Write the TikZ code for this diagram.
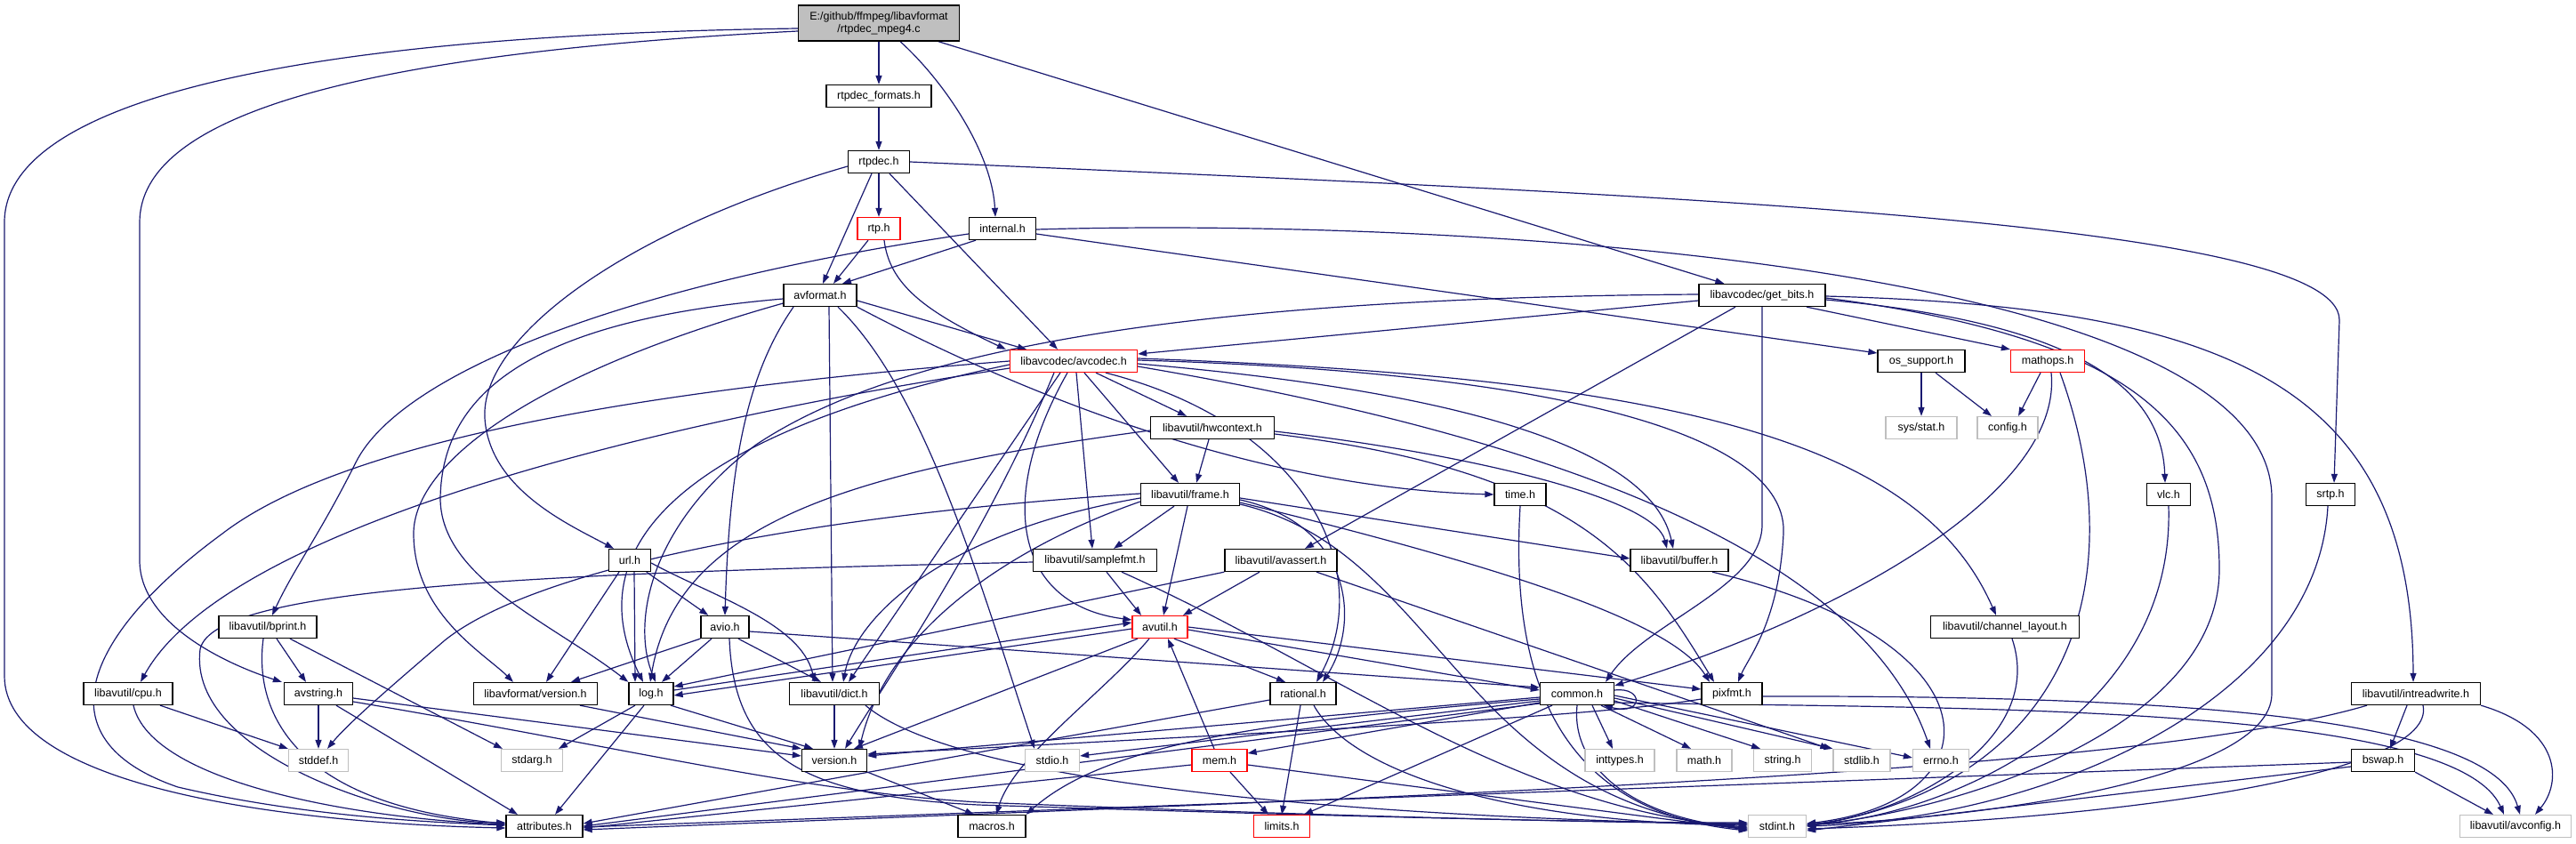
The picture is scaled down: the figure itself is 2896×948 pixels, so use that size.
\documentclass[tikz,border=0pt]{standalone}
\usepackage{fontspec}
\newfontfamily\nf{Liberation Sans}
\usetikzlibrary{arrows.meta}
\pgfdeclarelayer{bg}
\pgfsetlayers{bg,main}
\definecolor{navy}{RGB}{25,25,112}
\definecolor{lg}{RGB}{191,191,191}
\definecolor{mg}{RGB}{191,191,191}
\tikzset{
 nb/.style={draw=black, fill=white, line width=1.3pt, minimum height=25pt, inner sep=0pt, font=\nf\fontsize{12.5}{14}\selectfont, text=black},
 nr/.style={nb, draw=red},
 ng/.style={nb, draw=lg},
 edg/.style={draw=navy, line width=1.2pt, -{Triangle[length=10pt,width=7pt]}},
}
\newcommand\mkn[6]{\node[#1, minimum width=#5pt] (#2) at (#3,#4) {#6};}
\begin{document}
\begin{tikzpicture}[x=1pt,y=-1pt]
\useasboundingbox (0,0) rectangle (2896,948);
\node[nb, fill=mg, minimum width=181pt, minimum height=40pt, align=center] (main) at (988,26) {E:/github/ffmpeg/libavformat\\/rtpdec\_mpeg4.c};
\mkn{nb}{fmt}{988}{108}{118}{rtpdec\_formats.h}
\mkn{nb}{rtpdec}{988}{182}{69}{rtpdec.h}
\mkn{nr}{rtp}{988}{257}{48}{rtp.h}
\mkn{nb}{internal}{1127}{257}{75}{internal.h}
\mkn{nb}{avformat}{922}{332}{82}{avformat.h}
\mkn{nr}{avcodec}{1207}{406}{143}{libavcodec/avcodec.h}
\mkn{nb}{getbits}{1981}{332}{142}{libavcodec/get\_bits.h}
\mkn{nb}{ossupport}{2160}{406}{98}{os\_support.h}
\mkn{nr}{mathops}{2302}{406}{83}{mathops.h}
\mkn{ng}{sysstat}{2160}{481}{80}{sys/stat.h}
\mkn{ng}{config}{2257}{481}{68}{config.h}
\mkn{nb}{vlc}{2438}{556}{49}{vlc.h}
\mkn{nb}{srtp}{2620}{556}{55}{srtp.h}
\mkn{nb}{hwcontext}{1363}{481}{139}{libavutil/hwcontext.h}
\mkn{nb}{frame}{1338}{556}{111}{libavutil/frame.h}
\mkn{nb}{time}{1709}{556}{58}{time.h}
\mkn{nb}{samplefmt}{1231}{630}{139}{libavutil/samplefmt.h}
\mkn{nb}{avassert}{1440}{630}{126}{libavutil/avassert.h}
\mkn{nb}{buffer}{1888}{630}{110}{libavutil/buffer.h}
\mkn{nb}{chlayout}{2254}{705}{167}{libavutil/channel\_layout.h}
\mkn{nb}{url}{708}{630}{47}{url.h}
\mkn{nb}{bprint}{301}{705}{110}{libavutil/bprint.h}
\mkn{nb}{avio}{815}{705}{54}{avio.h}
\mkn{nb}{cpu}{144}{780}{100}{libavutil/cpu.h}
\mkn{nb}{avstring}{358}{780}{77}{avstring.h}
\mkn{nb}{lavfversion}{602}{780}{139}{libavformat/version.h}
\mkn{nb}{log}{732}{780}{50}{log.h}
\mkn{nb}{dict}{938}{780}{101}{libavutil/dict.h}
\mkn{ng}{stddef}{358}{855}{67}{stddef.h}
\mkn{ng}{stdarg}{598}{855}{69}{stdarg.h}
\mkn{nb}{version}{938}{855}{73}{version.h}
\mkn{nb}{attributes}{612}{929}{86}{attributes.h}
\mkn{nr}{avutil}{1304}{705}{62}{avutil.h}
\mkn{nb}{rational}{1465}{780}{74}{rational.h}
\mkn{nb}{common}{1773}{780}{83}{common.h}
\mkn{nb}{pixfmt}{1947}{780}{68}{pixfmt.h}
\mkn{nb}{intreadwrite}{2716}{780}{145}{libavutil/intreadwrite.h}
\mkn{ng}{stdio}{1183}{855}{61}{stdio.h}
\mkn{nr}{mem}{1371}{855}{62}{mem.h}
\mkn{ng}{inttypes}{1821}{855}{78}{inttypes.h}
\mkn{ng}{math}{1916}{855}{62}{math.h}
\mkn{ng}{string}{2004}{855}{65}{string.h}
\mkn{ng}{stdlib}{2093}{855}{64}{stdlib.h}
\mkn{ng}{errno}{2182}{855}{63}{errno.h}
\mkn{nb}{bswap}{2679}{855}{71}{bswap.h}
\mkn{nb}{macros}{1115}{929}{76}{macros.h}
\mkn{nr}{limits}{1441}{929}{63}{limits.h}
\mkn{ng}{stdint}{1998}{929}{65}{stdint.h}
\mkn{ng}{avconfig}{2828}{929}{125}{libavutil/avconfig.h}
\begin{pgfonlayer}{bg}
\fill[white] (0,0) rectangle (2896,948);
% main
\draw[edg] (main) -- (fmt);
\draw[edg] ([xshift=24pt]main.south) .. controls (1060,90) and (1115,170) .. ([xshift=-8pt]internal.north);
\draw[edg] (main) -- (getbits);
\draw[edg] ([yshift=-6pt]main.west) .. controls (300,40) and (5,120) .. (5,250) -- (5,760) .. controls (5,880) and (300,925) .. ([yshift=-2pt]attributes.west);
\draw[edg] ([yshift=-9pt]main.west) .. controls (400,60) and (157,130) .. (157,250) -- (157,630) .. controls (157,700) and (250,745) .. ([xshift=-2pt]avstring.north west);
% fmt, rtpdec, rtp
\draw[edg] (fmt) -- (rtpdec);
\draw[edg] (rtpdec) -- (rtp);
\draw[edg] ([xshift=-8pt]rtpdec.south) -- ([xshift=3pt]avformat.north);
\draw[edg] ([xshift=12pt]rtpdec.south) -- ([xshift=-18pt]avcodec.north);
\draw[edg] ([yshift=-5pt]rtpdec.west) .. controls (700,260) and (540,380) .. (545,470) .. controls (550,550) and (640,590) .. ([xshift=-18pt]url.north);
\draw[edg] (rtpdec.east) .. controls (1900,220) and (2630,250) .. (2630,360) -- ([xshift=4pt]srtp.north);
\draw[edg] ([xshift=-12pt]rtp.south) -- ([xshift=15pt]avformat.north);
\draw[edg] ([xshift=6pt]rtp.south) .. controls (1000,320) and (1040,350) .. ([xshift=-4pt]avcodec.north west);
% internal
\draw[edg] ([xshift=-30pt]internal.south) -- ([xshift=25pt]avformat.north);
\draw[edg] ([yshift=-6pt]internal.east) -- ([yshift=9pt]ossupport.west);
\draw[edg] ([yshift=-6pt]internal.west) .. controls (700,320) and (450,420) .. (400,520) .. controls (360,600) and (330,640) .. ([xshift=5pt]bprint.north);
\draw[edg] ([yshift=-1pt]internal.east) .. controls (1600,245) and (2554,290) .. (2554,560) -- (2554,780) .. controls (2554,880) and (2200,922) .. ([yshift=2pt]stdint.east);
% avformat
\draw[edg] ([yshift=-6pt]avformat.east) -- ([xshift=-53pt]avcodec.north);
\draw[edg] (avformat.south east) .. controls (1200,470) and (1450,550) .. (time.west);
\draw[edg] ([xshift=20pt]avformat.south) .. controls (1040,440) and (1100,650) .. ([xshift=-20pt]stdio.north);
\draw[edg] ([xshift=10pt]avformat.south) -- ([xshift=-2pt]dict.north);
\draw[edg] ([xshift=-30pt]avformat.south) .. controls (840,420) and (820,520) .. (avio.north);
\draw[edg] ([yshift=-4pt]avformat.west) .. controls (600,360) and (497,440) .. (495,560) .. controls (495,650) and (620,700) .. (log.north west);
\draw[edg] ([yshift=-9pt]avformat.west) .. controls (600,420) and (465,520) .. (465,600) .. controls (465,690) and (545,735) .. ([xshift=-25pt]lavfversion.north);
% url
\draw[edg] (url) -- (avio);
\draw[edg] ([xshift=5pt]url.south) -- ([xshift=-18pt]log.north);
\draw[edg] ([yshift=-3pt]url.east) .. controls (800,670) and (900,700) .. ([xshift=-22pt]dict.north);
\draw[edg] ([xshift=-12pt]url.south) -- ([xshift=12pt]lavfversion.north);
% avio
\draw[edg] ([xshift=-15pt]avio.south) -- ([xshift=12pt]log.north);
\draw[edg] ([xshift=15pt]avio.south) -- ([xshift=-15pt]dict.north);
\draw[edg] (avio.south west) -- ([xshift=40pt]lavfversion.north);
\draw[edg] ([yshift=-5pt]avio.east) -- ([yshift=7pt]common.west);
\draw[edg] ([xshift=5pt]avio.south) .. controls (825,850) and (900,895) .. (1100,905) .. controls (1500,918) and (1800,925) .. ([yshift=4pt]stdint.west);
% bprint
\draw[edg] ([xshift=10pt]bprint.south) -- ([xshift=-14pt]avstring.north);
\draw[edg] ([xshift=25pt]bprint.south) -- ([xshift=-33pt]stdarg.north);
\draw[edg] ([xshift=-5pt]bprint.south) .. controls (285,800) and (330,905) .. ([yshift=3pt]attributes.west);
% cpu
\draw[edg] ([xshift=36pt]cpu.south) -- (stddef.north west);
\draw[edg] ([xshift=6pt]cpu.south) .. controls (170,880) and (400,920) .. ([yshift=2pt]attributes.west);
% avstring
\draw[edg] (avstring) -- (stddef);
\draw[edg] ([xshift=20pt]avstring.south) -- ([xshift=-30pt]attributes.north);
\draw[edg] ([yshift=-5pt]avstring.east) -- ([yshift=5pt]version.west);
\draw[edg] ([yshift=-9pt]avstring.east) .. controls (700,840) and (900,890) .. (1100,902) .. controls (1500,918) and (1800,925) .. ([yshift=3pt]stdint.west);
% lavfversion
\draw[edg] ([xshift=50pt]lavfversion.south) -- (version.north west);
% log
\draw[edg] ([xshift=-18pt]log.south) -- ([xshift=30pt]stdarg.north);
\draw[edg] ([xshift=-8pt]log.south) -- ([xshift=12pt]attributes.north);
\draw[edg] ([xshift=22pt]log.south) -- ([xshift=-24pt]version.north);
\draw[edg] ([yshift=4pt]log.east) -- ([yshift=5pt]avutil.west);
\draw[edg] ([yshift=-2pt]avutil.west) -- ([yshift=-2pt]log.east);
% dict, version
\draw[edg] (dict) -- (version);
\draw[edg] ([xshift=35pt]dict.south) .. controls (1100,900) and (1700,922) .. ([yshift=2pt]stdint.west);
\draw[edg] (version.south east) -- ([xshift=-20pt]macros.north);
% avutil
\draw[edg] ([xshift=16pt]avutil.south) -- ([xshift=-20pt]rational.north);
\draw[edg] ([yshift=-3pt]avutil.east) -- ([yshift=4pt]common.west);
\draw[edg] ([xshift=-25pt]avutil.south) -- ([xshift=22pt]version.north);
\draw[edg] ([xshift=-12pt]avutil.south) .. controls (1240,780) and (1140,850) .. ([xshift=5pt]macros.north);
\draw[edg] (avutil.east) -- ([yshift=5pt]pixfmt.west);
% mem
\draw[edg] ([xshift=-6pt]mem.north) -- ([xshift=9pt]avutil.south);
\draw[edg] ([yshift=-5pt]mem.west) -- ([yshift=-2pt]attributes.east);
\draw[edg] ([xshift=12pt]mem.south) -- ([xshift=-15pt]limits.north);
\draw[edg] ([yshift=-5pt]mem.east) -- ([yshift=-4pt]stdint.west);
% rational
\draw[edg] ([xshift=-3pt]rational.south) -- (limits.north);
\draw[edg] ([yshift=-7pt]rational.west) -- ([yshift=3pt]attributes.east);
\draw[edg] ([xshift=12pt]rational.south) .. controls (1520,870) and (1700,925) .. ([yshift=1pt]stdint.west);
% common
\draw[edg] ([yshift=-10pt]common.west) -- ([yshift=8pt]mem.east);
\draw[edg] ([yshift=-8pt]common.west) -- ([yshift=5pt]stdio.east);
\draw[edg] ([yshift=-6pt]common.west) .. controls (1450,810) and (1250,830) .. (macros.north east);
\draw[edg] ([xshift=-28pt]common.south) -- ([xshift=25pt]limits.north);
\draw[edg] ([yshift=-4pt]common.west) -- ([yshift=5pt]version.east);
\draw[edg] ([yshift=-11pt]common.west) -- ([yshift=0pt]attributes.east);
\draw[edg] ([xshift=17pt]common.south) -- ([xshift=-8pt]inttypes.north);
\draw[edg] ([xshift=27pt]common.south) -- ([xshift=-15pt]math.north);
\draw[edg] ([yshift=-8pt]common.east) -- ([xshift=-25pt]string.north);
\draw[edg] ([yshift=-5pt]common.east) -- (stdlib.north west);
\draw[edg] ([yshift=-2pt]common.east) -- ([yshift=3pt]errno.west);
\draw[edg] (common.south) .. controls (1765,870) and (1850,922) .. ([yshift=-2pt]stdint.west);
\draw[edg] ([yshift=-10pt]common.east) .. controls (2200,797) and (2760,790) .. ([xshift=-13pt]avconfig.north);
\draw[edg] ([yshift=4pt]common.east) .. controls (1848,772) and (1848,805) .. ([xshift=30pt]common.south);
% pixfmt
\draw[edg] ([yshift=-3pt]pixfmt.east) .. controls (2400,782) and (2800,800) .. ([xshift=5pt]avconfig.north);
\draw[edg] ([yshift=-6pt]pixfmt.west) .. controls (1800,805) and (1500,820) .. ([yshift=7pt]version.east);
% intreadwrite, bswap
\draw[edg] ([xshift=-10pt]intreadwrite.south) -- ([xshift=8pt]bswap.north);
\draw[edg] (intreadwrite.south east) .. controls (2880,820) and (2880,880) .. ([xshift=22pt]avconfig.north);
\draw[edg] ([xshift=8pt]intreadwrite.south) .. controls (2740,870) and (2400,920) .. ([yshift=-3pt]stdint.east);
\draw[edg] ([xshift=-55pt]intreadwrite.south) .. controls (2400,870) and (1600,895) .. ([yshift=-4pt]attributes.east);
\draw[edg] (bswap.south east) -- ([xshift=-25pt]avconfig.north);
\draw[edg] ([yshift=-7pt]bswap.west) -- ([yshift=-5pt]stdint.east);
\draw[edg] ([yshift=-2pt]bswap.west) -- ([yshift=-1pt]attributes.east);
% getbits
\draw[edg] ([yshift=-6pt]getbits.west) -- ([yshift=8pt]avcodec.east);
\draw[edg] ([yshift=1pt]getbits.west) .. controls (1300,335) and (1000,400) .. (850,500) .. controls (730,590) and (710,700) .. ([xshift=5pt]log.north);
\draw[edg] ([xshift=-30pt]getbits.south) -- ([xshift=27pt]avassert.north);
\draw[edg] (getbits.south) -- (1981,590) .. controls (1981,660) and (1850,700) .. ([xshift=32pt]common.north);
\draw[edg] ([xshift=50pt]getbits.south) -- (mathops.north west);
\draw[edg] ([yshift=-5pt]getbits.east) .. controls (2300,360) and (2430,420) .. ([xshift=-4pt]vlc.north);
\draw[edg] ([yshift=-1pt]getbits.east) .. controls (2500,345) and (2712,430) .. ([xshift=-3pt]intreadwrite.north);
\draw[edg] ([yshift=-3pt]getbits.east) .. controls (2400,380) and (2495,480) .. (2495,640) .. controls (2495,820) and (2200,912) .. ([yshift=1pt]stdint.east);
% mathops, ossupport
\draw[edg] ([xshift=-8pt]mathops.south) -- ([xshift=12pt]config.north);
\draw[edg] ([xshift=4pt]mathops.south) .. controls (2320,560) and (2050,700) .. ([yshift=9pt]common.east);
\draw[edg] ([xshift=14pt]mathops.south) .. controls (2400,650) and (2330,880) .. (stdint.east);
\draw[edg] (ossupport) -- (sysstat);
\draw[edg] ([xshift=16pt]ossupport.south) -- ([xshift=-18pt]config.north);
% vlc, srtp, chlayout, buffer, time
\draw[edg] (vlc.south) .. controls (2445,800) and (2200,915) .. ([yshift=1pt]stdint.east);
\draw[edg] ([xshift=-3pt]srtp.south) .. controls (2605,790) and (2300,920) .. (stdint.east);
\draw[edg] ([xshift=8pt]chlayout.south) .. controls (2300,830) and (2150,915) .. ([yshift=2pt]stdint.east);
\draw[edg] ([xshift=37pt]buffer.south) .. controls (2250,720) and (2250,900) .. ([yshift=3pt]stdint.east);
\draw[edg] (time.south) .. controls (1695,800) and (1780,915) .. ([yshift=-5pt]stdint.west);
% avassert
\draw[edg] ([xshift=40pt]avassert.south) -- ([xshift=-4pt]stdlib.north west);
\draw[edg] ([xshift=-24pt]avassert.south) -- ([xshift=26pt]avutil.north);
\draw[edg] (avassert.south west) -- ([yshift=8pt]log.east);
% samplefmt
\draw[edg] ([xshift=13pt]samplefmt.south) -- ([xshift=-21pt]avutil.north);
\draw[edg] ([yshift=-2pt]samplefmt.west) .. controls (600,645) and (240,660) .. (225,730) .. controls (210,850) and (450,925) .. ([yshift=4pt]attributes.west);
\draw[edg] ([xshift=30pt]samplefmt.south) .. controls (1500,750) and (1700,910) .. ([yshift=-1pt]stdint.west);
% frame
\draw[edg] ([xshift=-18pt]frame.south) -- ([xshift=21pt]samplefmt.north);
\draw[edg] ([xshift=-3pt]frame.south) -- ([xshift=4pt]avutil.north);
\draw[edg] ([yshift=-4pt]frame.east) -- ([yshift=2pt]buffer.west);
\draw[edg] ([yshift=-6pt]frame.east) .. controls (1520,590) and (1530,700) .. ([xshift=22pt]rational.north);
\draw[edg] ([yshift=-9pt]frame.east) .. controls (1700,640) and (1880,700) .. ([xshift=-25pt]pixfmt.north);
\draw[edg] ([yshift=-11pt]frame.east) .. controls (1620,620) and (1640,900) .. ([yshift=-3pt]stdint.west);
\draw[edg] ([yshift=-4pt]frame.west) .. controls (1050,600) and (960,700) .. ([xshift=10pt]dict.north);
\draw[edg] ([yshift=-8pt]frame.west) .. controls (1150,610) and (1000,700) .. ([xshift=28pt]version.north);
\draw[edg] ([yshift=1pt]frame.west) .. controls (900,580) and (600,640) .. (500,720) .. controls (430,780) and (390,815) .. ([xshift=10pt]stddef.north);
% hwcontext
\draw[edg] ([xshift=-4pt]hwcontext.south) -- ([xshift=7pt]frame.north);
\draw[edg] ([yshift=-4pt]hwcontext.east) .. controls (1650,510) and (1860,560) .. ([xshift=-14pt]buffer.north);
\draw[edg] ([yshift=-7pt]hwcontext.east) .. controls (1780,530) and (1850,640) .. ([xshift=-20pt]pixfmt.north);
\draw[edg] ([yshift=-3pt]hwcontext.west) .. controls (950,530) and (760,590) .. ([xshift=-1pt]log.north);
% avcodec
\draw[edg] ([xshift=25pt]avcodec.south) -- ([xshift=-29pt]hwcontext.north);
\draw[edg] ([xshift=12pt]avcodec.south) -- ([xshift=-13pt]frame.north);
\draw[edg] ([xshift=3pt]avcodec.south) -- ([xshift=-3pt]samplefmt.north);
\draw[edg] ([xshift=-7pt]avcodec.south) .. controls (1120,560) and (1140,680) .. ([yshift=8pt]avutil.west);
\draw[edg] ([xshift=-15pt]avcodec.south) -- ([xshift=16pt]dict.north);
\draw[edg] ([xshift=-22pt]avcodec.south) .. controls (1110,600) and (1000,760) .. ([xshift=12pt]version.north);
\draw[edg] ([xshift=36pt]avcodec.south) .. controls (1480,480) and (1545,650) .. ([xshift=15pt]rational.north);
\draw[edg] ([yshift=-3pt]avcodec.east) .. controls (1700,445) and (1860,520) .. ([xshift=-7pt]buffer.north);
\draw[edg] ([yshift=1pt]avcodec.east) .. controls (1800,420) and (2010,500) .. (2005,600) .. controls (2000,700) and (1965,740) .. ([xshift=7pt]pixfmt.north);
\draw[edg] ([yshift=3pt]avcodec.east) .. controls (1900,425) and (2160,500) .. ([xshift=-10pt]chlayout.north);
\draw[edg] ([yshift=-6pt]avcodec.east) .. controls (1800,500) and (2100,640) .. ([xshift=-12pt]errno.north);
\draw[edg] ([yshift=-8pt]avcodec.west) .. controls (700,480) and (250,600) .. ([xshift=14pt]cpu.north);
\draw[edg] (avcodec.west) .. controls (700,440) and (380,500) .. (250,600) .. controls (100,710) and (40,830) .. (200,885) .. controls (350,920) and (500,925) .. ([yshift=1pt]attributes.west);
\draw[edg] ([yshift=-4pt]avcodec.west) .. controls (800,480) and (640,600) .. ([xshift=-9pt]log.north);
\end{pgfonlayer}
\end{tikzpicture}
\end{document}
